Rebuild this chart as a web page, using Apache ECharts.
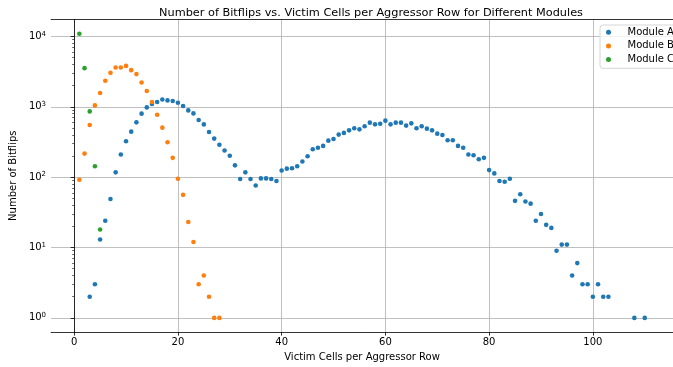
<!DOCTYPE html>
<html>
<head>
<meta charset="utf-8">
<script src="https://cdn.jsdelivr.net/npm/echarts@6/dist/echarts.min.js"></script>
<style>
  html, body { margin: 0; padding: 0; background: #fff; }
  #chart { width: 673px; height: 367px; }
</style>
</head>
<body>
<div id="chart"></div>
<script>
// victim cells per aggressor row (x) and number of bitflips (y), per module
const xA = [3, 4, 5, 6, 7, 8, 9, 10, 11, 12,
  13, 14, 15, 16, 17, 18, 19, 20, 21, 22,
  23, 24, 25, 26, 27, 28, 29, 30, 31, 32,
  33, 34, 35, 36, 37, 38, 39, 40, 41, 42,
  43, 44, 45, 46, 47, 48, 49, 50, 51, 52,
  53, 54, 55, 56, 57, 58, 59, 60, 61, 62,
  63, 64, 65, 66, 67, 68, 69, 70, 71, 72,
  73, 74, 75, 76, 77, 78, 79, 80, 81, 82,
  83, 84, 85, 86, 87, 88, 89, 90, 91, 92,
  93, 94, 95, 96, 97, 98, 99, 100, 101, 102,
  103, 108, 110];
const yA = [2, 3, 13, 24, 49, 117, 210, 323, 443, 601,
  798, 980, 1094, 1167, 1271, 1231, 1205, 1141, 1024, 888,
  805, 649, 562, 439, 353, 288, 239, 201, 147, 94,
  117, 94, 76, 96, 96, 94, 88, 124, 132, 134,
  143, 167, 198, 249, 261, 278, 330, 349, 402, 425,
  462, 494, 478, 528, 595, 563, 575, 635, 563, 595,
  595, 540, 581, 494, 528, 489, 462, 415, 398, 334,
  334, 278, 261, 210, 205, 180, 188, 126, 113, 88,
  86, 95, 46, 57, 45, 42, 24, 30, 21, 19,
  9, 11, 11, 4, 6, 3, 3, 2, 3, 2,
  2, 1, 1];

const xB = [1, 2, 3, 4, 5, 6, 7, 8, 9, 10,
  11, 12, 13, 14, 15, 16, 17, 18, 19, 20,
  21, 22, 23, 24, 25, 26, 27, 28];
const yB = [92, 216, 552, 1046, 1567, 2340, 3034, 3607, 3607, 3810,
  3313, 2913, 2215, 1672, 1167, 772, 505, 313, 188, 95,
  56, 23, 12, 3, 4, 2, 1, 1];

const xC = [1, 2, 3, 4, 5];
const yC = [10900, 3540, 860, 143, 18];

const names = ['Module A', 'Module B', 'Module C'];
const colors = ['#1f77b4', '#ff7f0e', '#2ca02c'];

const xTicks = [0, 20, 40, 60, 80, 100];
const yTicks = [1, 10, 100, 1000, 10000];
const yMinorTicks = [2, 3, 4, 5, 6, 7, 8, 9, 20, 30, 40, 50, 60, 70, 80, 90,
  200, 300, 400, 500, 600, 700, 800, 900, 2000, 3000, 4000, 5000, 6000, 7000, 8000, 9000];

function pairs(xs, ys) {
  return xs.map((x, i) => [x, ys[i]]);
}

const font = 'DejaVu Sans';
let myChart = echarts.init(document.getElementById('chart'));

let option = {
  animation: false,
  textStyle: { fontFamily: font },
  color: colors,
  title: {
    text: 'Number of Bitflips vs. Victim Cells per Aggressor Row for Different Modules',
    left: 366,
    textAlign: 'center',
    top: 3,
    textStyle: { fontFamily: font, fontSize: 11.3, fontWeight: 'normal', color: '#000' }
  },
  legend: {
    data: names,
    orient: 'vertical',
    left: 600,
    top: 25,
    padding: [1.3, 8, 2.8, 6],
    itemWidth: 20,
    itemHeight: 5,
    itemGap: 1.6,
    icon: 'circle',
    backgroundColor: 'rgba(255,255,255,0.8)',
    borderColor: '#d6d6d6',
    borderWidth: 1,
    borderRadius: 3,
    textStyle: { fontFamily: font, fontSize: 10, lineHeight: 12, color: '#000', padding: [0, 0, 0, 4] }
  },
  grid: {
    left: 50,
    top: 19.3,
    bottom: 33.7,
    right: -8.7,
    containLabel: false
  },
  xAxis: [{
    type: 'value',
    min: -4.45,
    max: 115.45,
    name: 'Victim Cells per Aggressor Row',
    nameLocation: 'middle',
    nameGap: 19,
    nameTextStyle: { fontFamily: font, fontSize: 10, color: '#000' },
    axisLine: { onZero: false, lineStyle: { color: '#000', width: 0.8 } },
    axisTick: { customValues: xTicks, length: 3.5, lineStyle: { color: '#000', width: 0.8 } },
    axisLabel: { customValues: xTicks, margin: 5, fontFamily: font, fontSize: 10, color: '#000' },
    splitLine: { show: true, lineStyle: { color: '#b0b0b0', width: 0.8 } }
  }, {
    type: 'value',
    position: 'top',
    min: -4.45,
    max: 115.45,
    z: 5,
    axisLine: { show: true, onZero: false, lineStyle: { color: '#000', width: 0.8 } },
    axisTick: { show: false },
    axisLabel: { show: false },
    splitLine: { show: false }
  }],
  yAxis: [{
    type: 'log',
    min: 0.628,
    max: 17500,
    name: 'Number of Bitflips',
    nameLocation: 'middle',
    nameGap: 22,
    nameTextStyle: { fontFamily: font, fontSize: 10, color: '#000' },
    axisLine: { show: true, lineStyle: { color: '#000', width: 0.8 } },
    axisTick: { customValues: yTicks, length: 3.5, lineStyle: { color: '#000', width: 0.8 } },
    axisLabel: {
      customValues: yTicks,
      margin: 5,
      formatter: v => '{b|10}{s|' + Math.round(Math.log10(v)) + '}',
      rich: {
        b: { fontFamily: font, fontSize: 10, color: '#000' },
        s: { fontFamily: font, fontSize: 7, color: '#000', verticalAlign: 'top', padding: [0, 0, 5, 0] }
      }
    },
    splitLine: { show: true, lineStyle: { color: '#b0b0b0', width: 0.8 } }
  }, {
    type: 'log',
    position: 'left',
    min: 0.628,
    max: 17500,
    axisLine: { show: false },
    axisTick: { customValues: yMinorTicks, length: 2, lineStyle: { color: '#000', width: 0.6 } },
    axisLabel: { show: false },
    splitLine: { show: false }
  }],
  series: names.map((n, i) => ({
    name: n,
    type: 'scatter',
    symbolSize: 4.6,
    itemStyle: { opacity: 1 },
    data: [pairs(xA, yA), pairs(xB, yB), pairs(xC, yC)][i]
  }))
};

myChart.setOption(option);
</script>
</body>
</html>
